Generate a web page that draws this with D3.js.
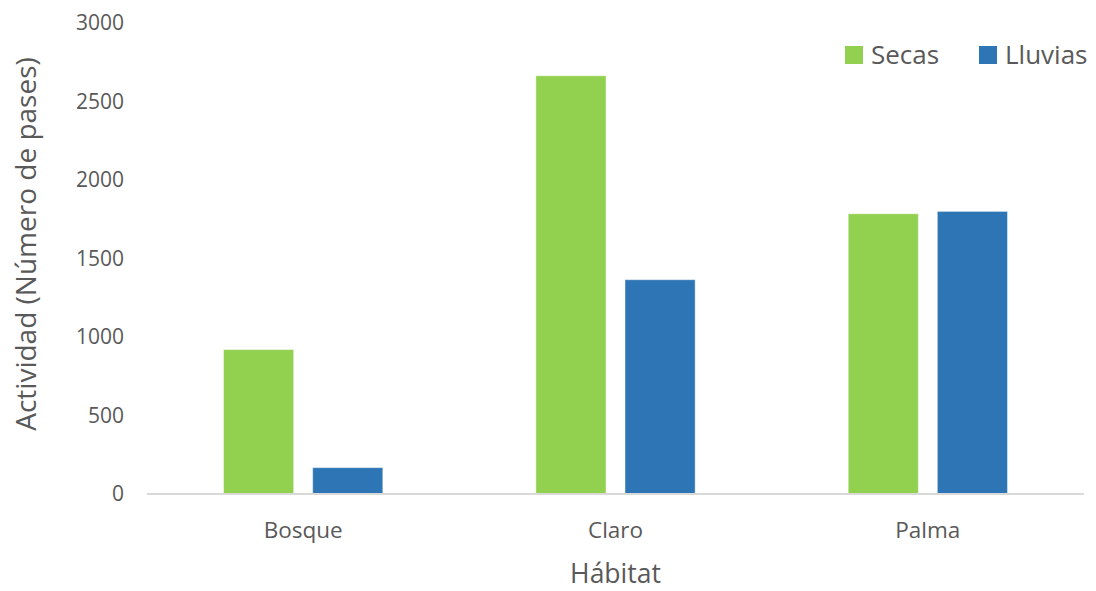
<!DOCTYPE html>
<html>
<head>
<meta charset="utf-8">
<script src="https://cdn.jsdelivr.net/npm/d3@7"></script>
<style>
  html, body { margin: 0; padding: 0; background: #fff; }
  svg { display: block; font-family: "Open Sans", sans-serif; }
</style>
</head>
<body>
<svg id="chart" width="1096" height="591"></svg>
<script>
// Habitat activity by season
const categories = ["Bosque", "Claro", "Palma"];
const seriesNames = ["Secas", "Lluvias"];
const secas = [920, 2664, 1785];
const lluvias = [168, 1365, 1800];
const yTicks = [0, 500, 1000, 1500, 2000, 2500, 3000];
const colors = ["#92D050", "#2E75B6"];

const rows = categories.map((c, i) => ({ cat: c, values: [secas[i], lluvias[i]] }));

const svg = d3.select("#chart");
const W = 1096, H = 591;
const m = { left: 147, right: 12, top: 23, bottom: 97 };
const textColor = "#595959";

const x0 = d3.scaleBand()
  .domain(categories)
  .range([m.left, W - m.right])
  .paddingInner(0.49)
  .paddingOuter(0.245);

const x1 = d3.scaleBand()
  .domain(seriesNames)
  .range([0, x0.bandwidth()])
  .paddingInner(0.213)
  .paddingOuter(0);

const y = d3.scaleLinear()
  .domain([0, 3000])
  .range([H - m.bottom, m.top]);

// Bars
const groups = svg.append("g").selectAll("g")
  .data(rows)
  .join("g")
  .attr("transform", d => `translate(${x0(d.cat)},0)`);

groups.selectAll("rect")
  .data(d => d.values.map((v, i) => ({ key: seriesNames[i], v, i })))
  .join("rect")
  .attr("x", d => x1(d.key))
  .attr("width", x1.bandwidth())
  .attr("y", d => y(d.v))
  .attr("height", d => y(0) - y(d.v))
  .attr("fill", d => colors[d.i])
  .attr("stroke", "#ffffff")
  .attr("stroke-opacity", 0.45)
  .attr("stroke-width", 1);

// Y axis (labels only)
const yAxis = d3.axisLeft(y).tickValues(yTicks).tickSize(0).tickPadding(0).tickFormat(d3.format("d"));
const yg = svg.append("g").attr("transform", `translate(124,0)`).call(yAxis);
yg.select(".domain").remove();
yg.selectAll("text")
  .attr("fill", textColor)
  .style("font-size", "21px")
  .style("font-family", "'Open Sans', sans-serif");

// X axis baseline and category labels
const xAxis = d3.axisBottom(x0).tickSize(0).tickPadding(0);
const xg = svg.append("g").attr("transform", `translate(0,${y(0)})`).call(xAxis);
xg.select(".domain")
  .attr("stroke", "#D9D9D9")
  .attr("stroke-width", 2)
  .attr("d", `M${m.left},0H${W - m.right}`);
xg.selectAll("text")
  .attr("fill", textColor)
  .attr("dy", 0)
  .attr("y", 44)
  .style("font-size", "22.5px")
  .style("font-family", "'Open Sans', sans-serif");

// Axis titles
svg.append("text")
  .attr("x", (m.left + W - m.right) / 2)
  .attr("y", 583)
  .attr("text-anchor", "middle")
  .attr("fill", textColor)
  .style("font-size", "26.5px")
  .text("Hábitat");

svg.append("text")
  .attr("transform", `translate(36,${244}) rotate(-90)`)
  .attr("text-anchor", "middle")
  .attr("fill", textColor)
  .style("font-size", "28px")
  .text("Actividad (Número de pases)");

// Legend
const legend = svg.append("g");
const legendX = [845, 979];
seriesNames.forEach((s, i) => {
  legend.append("rect")
    .attr("x", legendX[i]).attr("y", 46)
    .attr("width", 18).attr("height", 18)
    .attr("fill", colors[i]);
  legend.append("text")
    .attr("x", legendX[i] + 26).attr("y", 64)
    .attr("fill", textColor)
    .style("font-size", "26px")
    .text(s);
});
</script>
</body>
</html>
